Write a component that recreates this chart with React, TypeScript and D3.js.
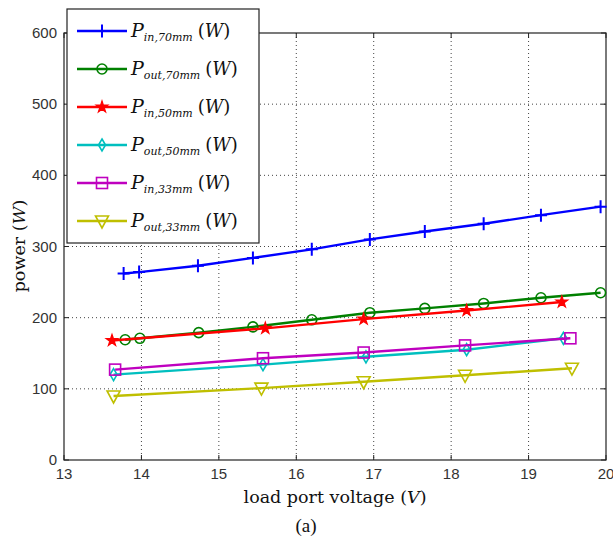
import React from "react";
import * as d3 from "d3";

const xTicks = [13, 14, 15, 16, 17, 18, 19, 20];
const yTicks = [0, 100, 200, 300, 400, 500, 600];

const pin70X = [13.77, 13.97, 14.73, 15.44, 16.2, 16.95, 17.66, 18.42, 19.16, 19.93];
const pin70Y = [262, 264, 273, 284, 296, 310, 321, 332, 344, 356];
const pout70X = [13.79, 13.98, 14.74, 15.44, 16.2, 16.95, 17.66, 18.42, 19.16, 19.93];
const pout70Y = [169, 171, 179, 187, 197, 207, 213, 220, 228, 235];
const pin50X = [13.62, 15.6, 16.87, 18.2, 19.43];
const pin50Y = [168, 185, 198, 210, 222];
const pout50X = [13.64, 15.57, 16.9, 18.2, 19.45];
const pout50Y = [120, 134, 145, 155, 171];
const pin33X = [13.66, 15.57, 16.87, 18.18, 19.54];
const pin33Y = [127, 143, 151, 161, 171];
const pout33X = [13.64, 15.55, 16.87, 18.18, 19.56];
const pout33Y = [90, 101, 110, 119, 129];

const seriesNames = [
  { sub: "in,70mm" },
  { sub: "out,70mm" },
  { sub: "in,50mm" },
  { sub: "out,50mm" },
  { sub: "in,33mm" },
  { sub: "out,33mm" },
];

const colors = ["#0000ff", "#008000", "#ff0000", "#00bfbf", "#bf00bf", "#bfbf00"];
const markers = ["plus", "circle", "star", "diamond", "square", "tri"];

const series = [
  [pin70X, pin70Y],
  [pout70X, pout70Y],
  [pin50X, pin50Y],
  [pout50X, pout50Y],
  [pin33X, pin33Y],
  [pout33X, pout33Y],
];

const L = 64, R = 606, T = 33, B = 460;
const x = d3.scaleLinear().domain([13, 20]).range([L, R]);
const y = d3.scaleLinear().domain([0, 600]).range([B, T]);

function Marker({ type, cx, cy, color }: { type: string; cx: number; cy: number; color: string }) {
  const sw = 1.6;
  if (type === "plus") {
    return (
      <path d={`M${cx - 6},${cy}H${cx + 6}M${cx},${cy - 6.5}V${cy + 6.5}`} stroke={color} strokeWidth={2} fill="none" />
    );
  }
  if (type === "circle") {
    return <circle cx={cx} cy={cy} r={5} stroke={color} strokeWidth={sw} fill="none" />;
  }
  if (type === "star") {
    const p = d3.symbol(d3.symbolStar, 42)();
    return <path d={p || ""} transform={`translate(${cx},${cy})`} fill={color} stroke={color} strokeWidth={1.2} />;
  }
  if (type === "diamond") {
    return (
      <path d={`M${cx},${cy - 6}L${cx + 3.5},${cy}L${cx},${cy + 6}L${cx - 3.5},${cy}Z`} stroke={color} strokeWidth={sw} fill="none" />
    );
  }
  if (type === "square") {
    return <rect x={cx - 5.5} y={cy - 5.5} width={11} height={11} stroke={color} strokeWidth={sw} fill="none" />;
  }
  return (
    <path d={`M${cx - 6.5},${cy - 5}L${cx + 6.5},${cy - 5}L${cx},${cy + 7}Z`} stroke={color} strokeWidth={sw} fill="none" />
  );
}

export default function App() {
  const line = d3.line<[number, number]>().x((d) => x(d[0])).y((d) => y(d[1]));
  const legendTop = 9;
  const legendRowY = (i: number) => 31 + i * 38;
  return (
    <svg width={613} height={546} style={{ position: "absolute", left: 0, top: 0, background: "#fff" }}>
      <rect x={0} y={0} width={613} height={546} fill="#fff" />
      {/* grid */}
      {xTicks.slice(1, -1).map((t) => (
        <line key={"gx" + t} x1={x(t)} x2={x(t)} y1={T} y2={B} stroke="#444" strokeWidth={1} strokeDasharray="1,3" />
      ))}
      {yTicks.slice(1, -1).map((t) => (
        <line key={"gy" + t} x1={L} x2={R} y1={y(t)} y2={y(t)} stroke="#444" strokeWidth={1} strokeDasharray="1,3" />
      ))}
      {/* axes box */}
      <rect x={L} y={T} width={R - L} height={B - T} fill="none" stroke="#222" strokeWidth={1.2} />
      {xTicks.map((t) => (
        <g key={"xt" + t}>
          <line x1={x(t)} x2={x(t)} y1={B} y2={B - 5} stroke="#222" />
          <line x1={x(t)} x2={x(t)} y1={T} y2={T + 5} stroke="#222" />
          <text x={x(t)} y={479} textAnchor="middle" fontFamily="Liberation Sans, Arial, sans-serif" fontSize={15} fill="#333">
            {t}
          </text>
        </g>
      ))}
      {yTicks.map((t) => (
        <g key={"yt" + t}>
          <line x1={L} x2={L + 5} y1={y(t)} y2={y(t)} stroke="#222" />
          <line x1={R} x2={R - 5} y1={y(t)} y2={y(t)} stroke="#222" />
          <text x={57} y={y(t) + 5} textAnchor="end" fontFamily="Liberation Sans, Arial, sans-serif" fontSize={15} fill="#333">
            {t}
          </text>
        </g>
      ))}
      {/* series */}
      {series.map((s, i) => {
        const pts: [number, number][] = s[0].map((xv, j) => [xv, s[1][j]]);
        return (
          <g key={"s" + i}>
            <path d={line(pts) || ""} stroke={colors[i]} strokeWidth={2.4} fill="none" />
            {pts.map((p, j) => (
              <Marker key={j} type={markers[i]} cx={x(p[0])} cy={y(p[1])} color={colors[i]} />
            ))}
          </g>
        );
      })}
      {/* legend */}
      <rect x={67} y={legendTop} width={192} height={234} fill="#fff" stroke="#222" strokeWidth={1.2} />
      {seriesNames.map((s, i) => {
        const ly = legendRowY(i);
        return (
          <g key={"l" + i}>
            <line x1={77} x2={127} y1={ly} y2={ly} stroke={colors[i]} strokeWidth={2.4} />
            <Marker type={markers[i]} cx={102} cy={ly} color={colors[i]} />
            <text x={131} y={ly + 6} fontFamily="DejaVu Serif, Liberation Serif, serif" fill="#111">
              <tspan fontStyle="italic" fontSize={19}>P</tspan>
              <tspan fontStyle="italic" fontSize={11} dy={4}>{s.sub}</tspan>
              <tspan fontSize={18} dy={-4} dx={5}>(</tspan>
              <tspan fontStyle="italic" fontSize={18}>W</tspan>
              <tspan fontSize={18}>)</tspan>
            </text>
          </g>
        );
      })}
      {/* labels */}
      <text x={335} y={503} textAnchor="middle" fontFamily="DejaVu Serif, Liberation Serif, serif" fontSize={17.5} fill="#111">
        load port voltage (<tspan fontStyle="italic">V</tspan>)
      </text>
      <text
        transform="translate(25,246) rotate(-90)"
        textAnchor="middle"
        fontFamily="DejaVu Serif, Liberation Serif, serif"
        fontSize={17.5}
        fill="#111"
      >
        power (<tspan fontStyle="italic">W</tspan>)
      </text>
      <text x={306} y={532} textAnchor="middle" fontFamily="Liberation Serif, Times New Roman, serif" fontSize={19} fill="#111">
        (a)
      </text>
    </svg>
  );
}
